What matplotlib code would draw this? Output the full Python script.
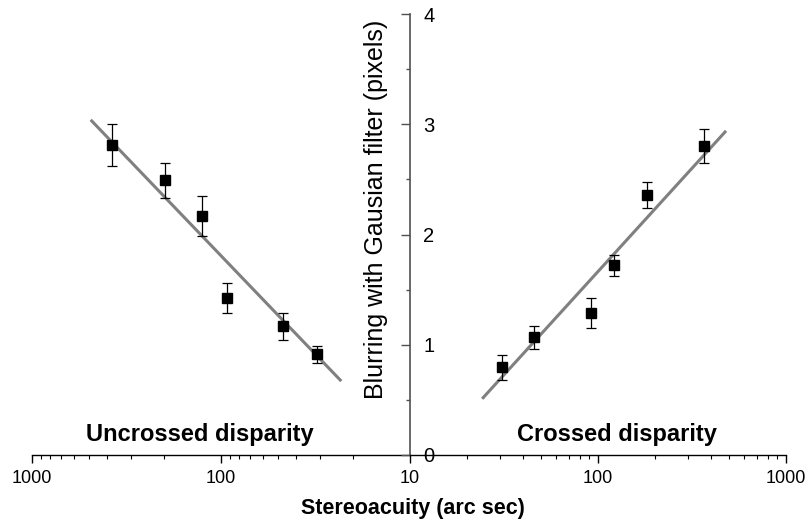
import numpy as np
import matplotlib
matplotlib.use("Agg")
import matplotlib.pyplot as plt
from matplotlib.ticker import LogLocator, FixedLocator, NullFormatter, FixedFormatter

plt.rcParams['font.family'] = ['Liberation Sans', 'DejaVu Sans']

# uncrossed disparity (left panel, reversed log axis)
uncrossed_x = [379, 198, 126, 93, 47, 31]
uncrossed_y = [2.81, 2.49, 2.165, 1.424, 1.167, 0.913]
uncrossed_err = [0.19, 0.16, 0.18, 0.135, 0.12, 0.08]
uncrossed_fit_x = [483, 23.4]
uncrossed_fit_y = [3.03, 0.68]

# crossed disparity (right panel)
crossed_x = [30.7, 45.7, 91.8, 121.7, 182, 365]
crossed_y = [0.795, 1.068, 1.285, 1.721, 2.356, 2.80]
crossed_err = [0.115, 0.103, 0.136, 0.094, 0.118, 0.153]
crossed_fit_x = [24.5, 474]
crossed_fit_y = [0.52, 2.93]

y_ticks = [0, 1, 2, 3, 4]
left_xticks = [1000, 100, 10]
right_xticks = [100, 1000]

fig = plt.figure(figsize=(8.1, 5.28), dpi=100)
W, H = 810, 528
bottom = (H - 455) / H
height = 441 / H
ax_l = fig.add_axes([32 / W, bottom, 378 / W, height])
ax_r = fig.add_axes([410 / W, bottom, 376 / W, height])

fit_color = '#808080'
for ax, xs, ys, es, fx, fy in [
        (ax_l, uncrossed_x, uncrossed_y, uncrossed_err, uncrossed_fit_x, uncrossed_fit_y),
        (ax_r, crossed_x, crossed_y, crossed_err, crossed_fit_x, crossed_fit_y)]:
    ax.set_xscale('log')
    ax.plot(fx, fy, color=fit_color, lw=2.2, zorder=2)
    ax.errorbar(xs, ys, yerr=es, fmt='s', color='black', ms=7, mec='black',
                ecolor='black', elinewidth=0.9, capsize=3.5, capthick=0.9, zorder=3)
    ax.set_ylim(0, 4)
    ax.patch.set_visible(False)
    for s in ['top', 'right', 'left']:
        ax.spines[s].set_visible(False)
    ax.spines['bottom'].set_linewidth(1.0)
    ax.xaxis.set_minor_locator(LogLocator(base=10, subs=np.arange(2, 10)))
    ax.xaxis.set_minor_formatter(NullFormatter())
    ax.tick_params(axis='x', which='major', direction='out', length=6, width=1.0,
                   labelsize=13, pad=5)
    ax.tick_params(axis='x', which='minor', direction='out', length=3, width=0.8)

ax_l.set_xlim(1000, 10)
ax_r.set_xlim(10, 1000)
ax_l.xaxis.set_major_locator(FixedLocator(left_xticks))
ax_l.xaxis.set_major_formatter(FixedFormatter([str(t) for t in left_xticks]))
ax_r.xaxis.set_major_locator(FixedLocator(right_xticks))
ax_r.xaxis.set_major_formatter(FixedFormatter([str(t) for t in right_xticks]))

ax_l.set_yticks([])

# central y axis: spine of right panel, labels drawn to the right of it
ax_r.spines['left'].set_visible(True)
ax_r.spines['left'].set_color('#505050')
ax_r.spines['left'].set_linewidth(1.2)
ax_r.set_yticks(y_ticks)
ax_r.set_yticks(np.arange(0.5, 4, 1.0), minor=True)
ax_r.tick_params(axis='y', which='major', direction='out', length=6.5, width=1.0,
                 colors='#505050', labelcolor='black', labelsize=14.5, pad=-16)
ax_r.tick_params(axis='y', which='minor', direction='out', length=3, width=1.0,
                 colors='#505050')
for lab in ax_r.get_yticklabels():
    lab.set_horizontalalignment('left')

fig.text(376 / W, 1 - 209 / H, 'Blurring with Gausian filter (pixels)', rotation=90,
         ha='center', va='center', fontsize=18)

ax_l.text(0.444, 0.0317, 'Uncrossed disparity', transform=ax_l.transAxes,
          ha='center', va='baseline', fontsize=17, fontweight='bold')
ax_r.text(0.55, 0.0317, 'Crossed disparity', transform=ax_r.transAxes,
          ha='center', va='baseline', fontsize=17, fontweight='bold')

fig.text(413 / W, 1 - 514 / H, 'Stereoacuity (arc sec)', ha='center', va='baseline',
         fontsize=15.5, fontweight='bold')

fig.savefig('out.png', dpi=100)
